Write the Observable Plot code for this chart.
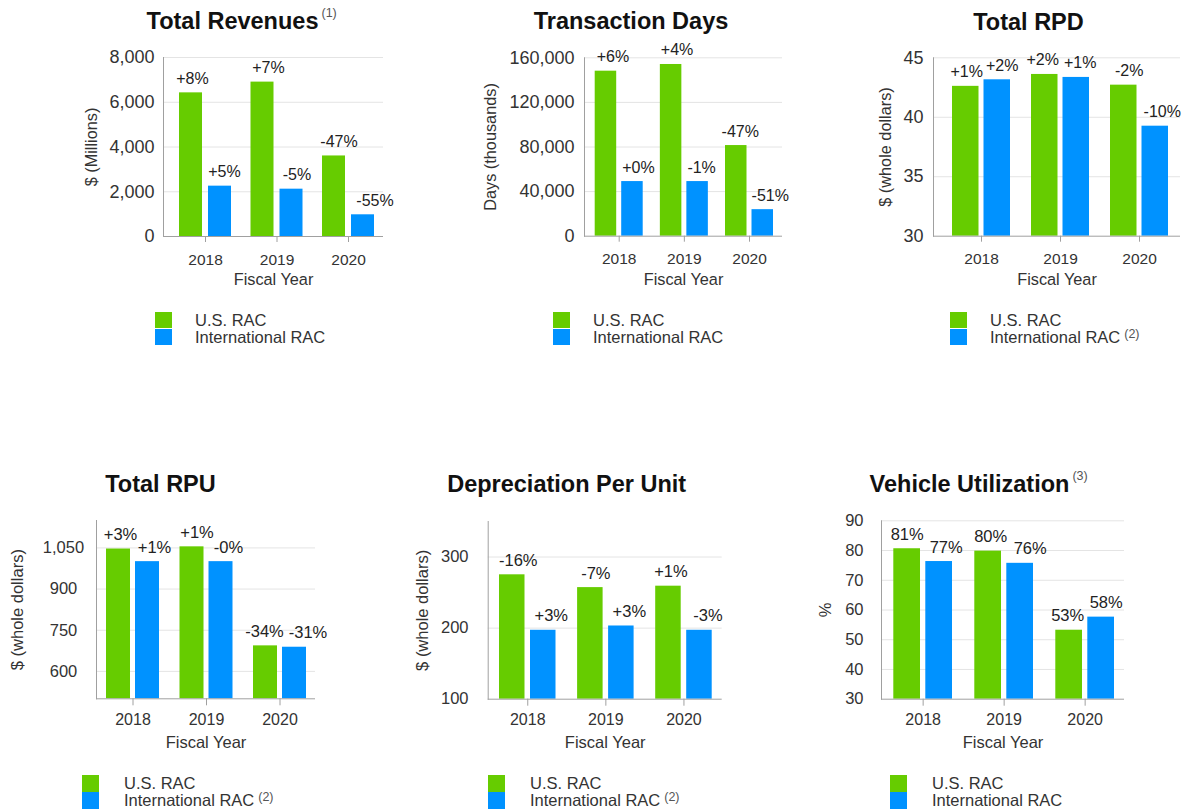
<!DOCTYPE html>
<html>
<head>
<meta charset="utf-8">
<script src="https://cdn.jsdelivr.net/npm/d3@7"></script>
<script src="https://cdn.jsdelivr.net/npm/@observablehq/plot@0.6"></script>
<style>
  body { margin: 0; background: #fff; font-family: "Liberation Sans", Arial, sans-serif; }
  #root { position: relative; width: 1183px; height: 812px; overflow: hidden; background: #fff; }
  .svgbox { position: absolute; }
  .title { position: absolute; width: 400px; text-align: center; font-weight: bold; font-size: 23.5px; line-height: 23.5px; color: #111; white-space: nowrap; }
  .title .t { position: relative; display: inline-block; }
  .title .sup { position: absolute; left: 100%; top: -3px; margin-left: 3px; font-size: 12.5px; line-height: 12.5px; font-weight: normal; color: #555; }
  .legend { position: absolute; font-size: 16.5px; color: #333; }
  .legend .row { position: relative; height: 17px; line-height: 17px; white-space: nowrap; }
  .legend .sw { position: absolute; left: 0; top: 0; width: 16.5px; height: 16.5px; }
  .legend .lab { position: absolute; top: 0; }
  .legend .lsup { position: relative; top: -5px; margin-left: 4px; font-size: 12.5px; color: #555; }
</style>
</head>
<body>
<div id="root"></div>
<script>
// ---------- data ----------
const years = ["2018", "2019", "2020"];
const seriesNames = ["U.S. RAC", "International RAC"];

const revenuesUS = [6420, 6900, 3600];
const revenuesIntl = [2250, 2115, 970];
const revenuesUSChange = ["+8%", "+7%", "-47%"];
const revenuesIntlChange = ["+5%", "-5%", "-55%"];
const revenuesTicks = [0, 2000, 4000, 6000, 8000];

const daysUS = [148000, 154000, 81300];
const daysIntl = [49000, 49000, 23800];
const daysUSChange = ["+6%", "+4%", "-47%"];
const daysIntlChange = ["+0%", "-1%", "-51%"];
const daysTicks = [0, 40000, 80000, 120000, 160000];

const rpdUS = [42.6, 43.6, 42.7];
const rpdIntl = [43.15, 43.35, 39.25];
const rpdUSChange = ["+1%", "+2%", "-2%"];
const rpdIntlChange = ["+2%", "+1%", "-10%"];
const rpdTicks = [30, 35, 40, 45];

const rpuUS = [1046, 1054, 693];
const rpuIntl = [1000, 1000, 688];
const rpuUSChange = ["+3%", "+1%", "-34%"];
const rpuIntlChange = ["+1%", "-0%", "-31%"];
const rpuTicks = [600, 750, 900, 1050];

const dpuUS = [275, 257, 259];
const dpuIntl = [197, 203, 197];
const dpuUSChange = ["-16%", "-7%", "+1%"];
const dpuIntlChange = ["+3%", "+3%", "-3%"];
const dpuTicks = [100, 200, 300];

const utilUS = [80.6, 79.8, 53.2];
const utilIntl = [76.3, 75.7, 57.6];
const utilUSLabels = ["81%", "80%", "53%"];
const utilIntlLabels = ["77%", "76%", "58%"];
const utilTicks = [30, 40, 50, 60, 70, 80, 90];

// ---------- styling / layout ----------
const GREEN = "#66cc00";
const BLUE = "#0092ff";
const AXIS = "#a0a0a0";
const GRID = "#e4e4e4";

const row1 = {sy: 36, H: 264, xTick: 6, xPad: 11, xFont: 15.5, yFont: 18, labelSize: 16, axisFont: 16.3, xLabelDy: 43.5};
const row2 = {sy: 503, H: 262, xTick: 7, xPad: 7.5, xFont: 16, yFont: 16.5, labelSize: 16.5, axisFont: 16.5, xLabelDy: 44};

const panels = [
  {title: "Total Revenues", note: "(1)", us: revenuesUS, intl: revenuesIntl, usLab: revenuesUSChange, intlLab: revenuesIntlChange,
   yDomain: [0, 8000], yTicks: revenuesTicks, yLabel: "$ (Millions)", legendNote: "",
   L: {...row1, sx: 0, W: 395, FL: 163, FR: 383, FT: 57, FB: 236, B0: 179, B1: 374, bw: 23, gap: 6, yPad: 9, yAnchor: "end", yLabelDx: -72,
       usNudge: [1.5, 6, 5], intlNudge: [4.5, 5.5, 12],
       titleX: 232.5, titleY: 10, legX: 155, legY: 311.5, legText: 40}},
  {title: "Transaction Days", note: "", us: daysUS, intl: daysIntl, usLab: daysUSChange, intlLab: daysIntlChange,
   yDomain: [0, 160000], yTicks: daysTicks, yLabel: "Days (thousands)", legendNote: "",
   L: {...row1, sx: 395, W: 395, FL: 584, FR: 782, FT: 57.3, FB: 235.7, B0: 594.7, B1: 773, bw: 21.5, gap: 5, yPad: 10, yAnchor: "end", yLabelDx: -94,
       usNudge: [7, 6, 4], intlNudge: [6, 4, 7.5],
       titleX: 631, titleY: 10, legX: 553, legY: 311.5, legText: 40}},
  {title: "Total RPD", note: "", us: rpdUS, intl: rpdIntl, usLab: rpdUSChange, intlLab: rpdIntlChange,
   yDomain: [30, 45], yTicks: rpdTicks, yLabel: "$ (whole dollars)", legendNote: "(2)",
   L: {...row1, sx: 790, W: 393, FL: 933, FR: 1180, FT: 57.3, FB: 235.7, B0: 952, B1: 1168, bw: 26.5, gap: 5, yPad: 10, yAnchor: "end", yLabelDx: -48,
       usNudge: [1, -2, 5.5], intlNudge: [5, 4, 7],
       titleX: 1028.5, titleY: 11, legX: 950, legY: 311.5, legText: 40}},
  {title: "Total RPU", note: "", us: rpuUS, intl: rpuIntl, usLab: rpuUSChange, intlLab: rpuIntlChange,
   yDomain: [500, 1150], yTicks: rpuTicks, yLabel: "$ (whole dollars)", legendNote: "(2)",
   L: {...row2, sx: 0, W: 395, FL: 96, FR: 315, FT: 520, FB: 698.3, B0: 106, B1: 306, bw: 24, gap: 5, yPad: 33, yAnchor: "middle", yLabelDx: -79,
       usNudge: [2, 5, -1], intlNudge: [7, 7.5, 13.5],
       titleX: 160.5, titleY: 473, legX: 82, legY: 775, legText: 42}},
  {title: "Depreciation Per Unit", note: "", us: dpuUS, intl: dpuIntl, usLab: dpuUSChange, intlLab: dpuIntlChange,
   yDomain: [100, 350], yTicks: dpuTicks, yLabel: "$ (whole dollars)", legendNote: "(2)",
   L: {...row2, sx: 395, W: 395, FL: 487.7, FR: 721.7, FT: 521, FB: 698.7, B0: 499, B1: 711.7, bw: 25.5, gap: 5.5, yPad: 19.7, yAnchor: "end", yLabelDx: -65,
       usNudge: [6, 5.5, 2.5], intlNudge: [8, 8, 8.5],
       titleX: 566.7, titleY: 473, legX: 488, legY: 775, legText: 42}},
  {title: "Vehicle Utilization", note: "(3)", us: utilUS, intl: utilIntl, usLab: utilUSLabels, intlLab: utilIntlLabels,
   yDomain: [30, 90], yTicks: utilTicks, yLabel: "%", legendNote: "",
   L: {...row2, sx: 790, W: 393, FL: 881, FR: 1124, FT: 520.3, FB: 698.7, B0: 893.3, B1: 1114, bw: 26.7, gap: 5.3, yPad: 18, yAnchor: "end", yLabelDx: -56,
       usNudge: [0, 2.5, -1.5], intlNudge: [7, 10, 5],
       titleX: 969.5, titleY: 473, legX: 890, legY: 775, legText: 42}}
];

const root = document.getElementById("root");

function makePanel(p) {
  const L = p.L;
  const rows = years.map((yr, i) => ({year: yr, us: p.us[i], intl: p.intl[i], usLab: p.usLab[i], intlLab: p.intlLab[i]}));
  const group = 2 * L.bw + L.gap;
  const step = (L.B1 - L.B0 - group) / 2;
  const span = L.FR - L.FL;
  const leftover = span - (L.B1 - L.B0);
  const paddingInner = 1 - group / step;
  const paddingOuter = leftover / (2 * step);
  const align = (L.B0 - L.FL) / leftover;
  const off = (L.bw + L.gap) / 2;
  const ymin = p.yDomain[0];

  // one text mark per label so each can carry its own horizontal nudge
  const labelMarks = [];
  rows.forEach((r, i) => {
    labelMarks.push(Plot.text([r], {x: "year", y: "us", text: "usLab", dx: -off + L.usNudge[i], dy: -9, lineAnchor: "bottom", fontSize: L.labelSize, fill: "#222"}));
    labelMarks.push(Plot.text([r], {x: "year", y: "intl", text: "intlLab", dx: off + L.intlNudge[i], dy: -9, lineAnchor: "bottom", fontSize: L.labelSize, fill: "#222"}));
  });

  const chart = Plot.plot({
    width: L.W,
    height: L.H,
    marginLeft: L.FL - L.sx,
    marginRight: L.sx + L.W - L.FR,
    marginTop: L.FT - L.sy,
    marginBottom: L.sy + L.H - L.FB,
    style: {background: "transparent", overflow: "visible", fontFamily: "'Liberation Sans', Arial, sans-serif", color: "#333"},
    x: {type: "band", domain: years, paddingInner, paddingOuter, align, round: false},
    y: {domain: p.yDomain},
    marks: [
      Plot.gridY({ticks: p.yTicks.filter(t => t > ymin), stroke: GRID, strokeOpacity: 1}),
      Plot.barY(rows, {x: "year", y1: () => ymin, y2: "us", fill: GREEN, insetLeft: 0, insetRight: L.bw + L.gap}),
      Plot.barY(rows, {x: "year", y1: () => ymin, y2: "intl", fill: BLUE, insetLeft: L.bw + L.gap, insetRight: 0}),
      ...labelMarks,
      Plot.ruleY([ymin], {stroke: AXIS}),
      Plot.frame({anchor: "left", stroke: AXIS}),
      Plot.axisX({tickSize: L.xTick, tickPadding: L.xPad, fontSize: L.xFont, stroke: AXIS, fill: "#333", label: null}),
      Plot.axisY({ticks: p.yTicks, tickSize: 0, tickPadding: L.yPad, fontSize: L.yFont, tickFormat: d3.format(","), textAnchor: L.yAnchor, fill: "#333", label: null}),
      Plot.text([p.yLabel], {frameAnchor: "left", textAnchor: "middle", lineAnchor: "middle", dx: L.yLabelDx, rotate: -90, fontSize: L.axisFont, fill: "#333"}),
      Plot.text(["Fiscal Year"], {frameAnchor: "bottom", textAnchor: "middle", lineAnchor: "middle", dy: L.xLabelDy, fontSize: L.axisFont, fill: "#333"})
    ]
  });
  const box = document.createElement("div");
  box.className = "svgbox";
  box.style.left = L.sx + "px";
  box.style.top = L.sy + "px";
  box.appendChild(chart);
  root.appendChild(box);

  // title
  const t = document.createElement("div");
  t.className = "title";
  t.style.left = (L.titleX - 200) + "px";
  t.style.top = L.titleY + "px";
  const inner = document.createElement("span");
  inner.className = "t";
  inner.textContent = p.title;
  if (p.note) {
    const s = document.createElement("span");
    s.className = "sup";
    s.textContent = p.note;
    inner.appendChild(s);
  }
  t.appendChild(inner);
  root.appendChild(t);

  // legend
  const lg = document.createElement("div");
  lg.className = "legend";
  lg.style.left = L.legX + "px";
  lg.style.top = L.legY + "px";
  [GREEN, BLUE].forEach((c, i) => {
    const r = document.createElement("div");
    r.className = "row";
    const sw = document.createElement("div");
    sw.className = "sw";
    sw.style.background = c;
    const lab = document.createElement("div");
    lab.className = "lab";
    lab.style.left = L.legText + "px";
    lab.textContent = seriesNames[i];
    if (i === 1 && p.legendNote) {
      const s = document.createElement("span");
      s.className = "lsup";
      s.textContent = p.legendNote;
      lab.appendChild(s);
    }
    r.appendChild(sw);
    r.appendChild(lab);
    lg.appendChild(r);
  });
  root.appendChild(lg);
}

panels.forEach(makePanel);
</script>
</body>
</html>
